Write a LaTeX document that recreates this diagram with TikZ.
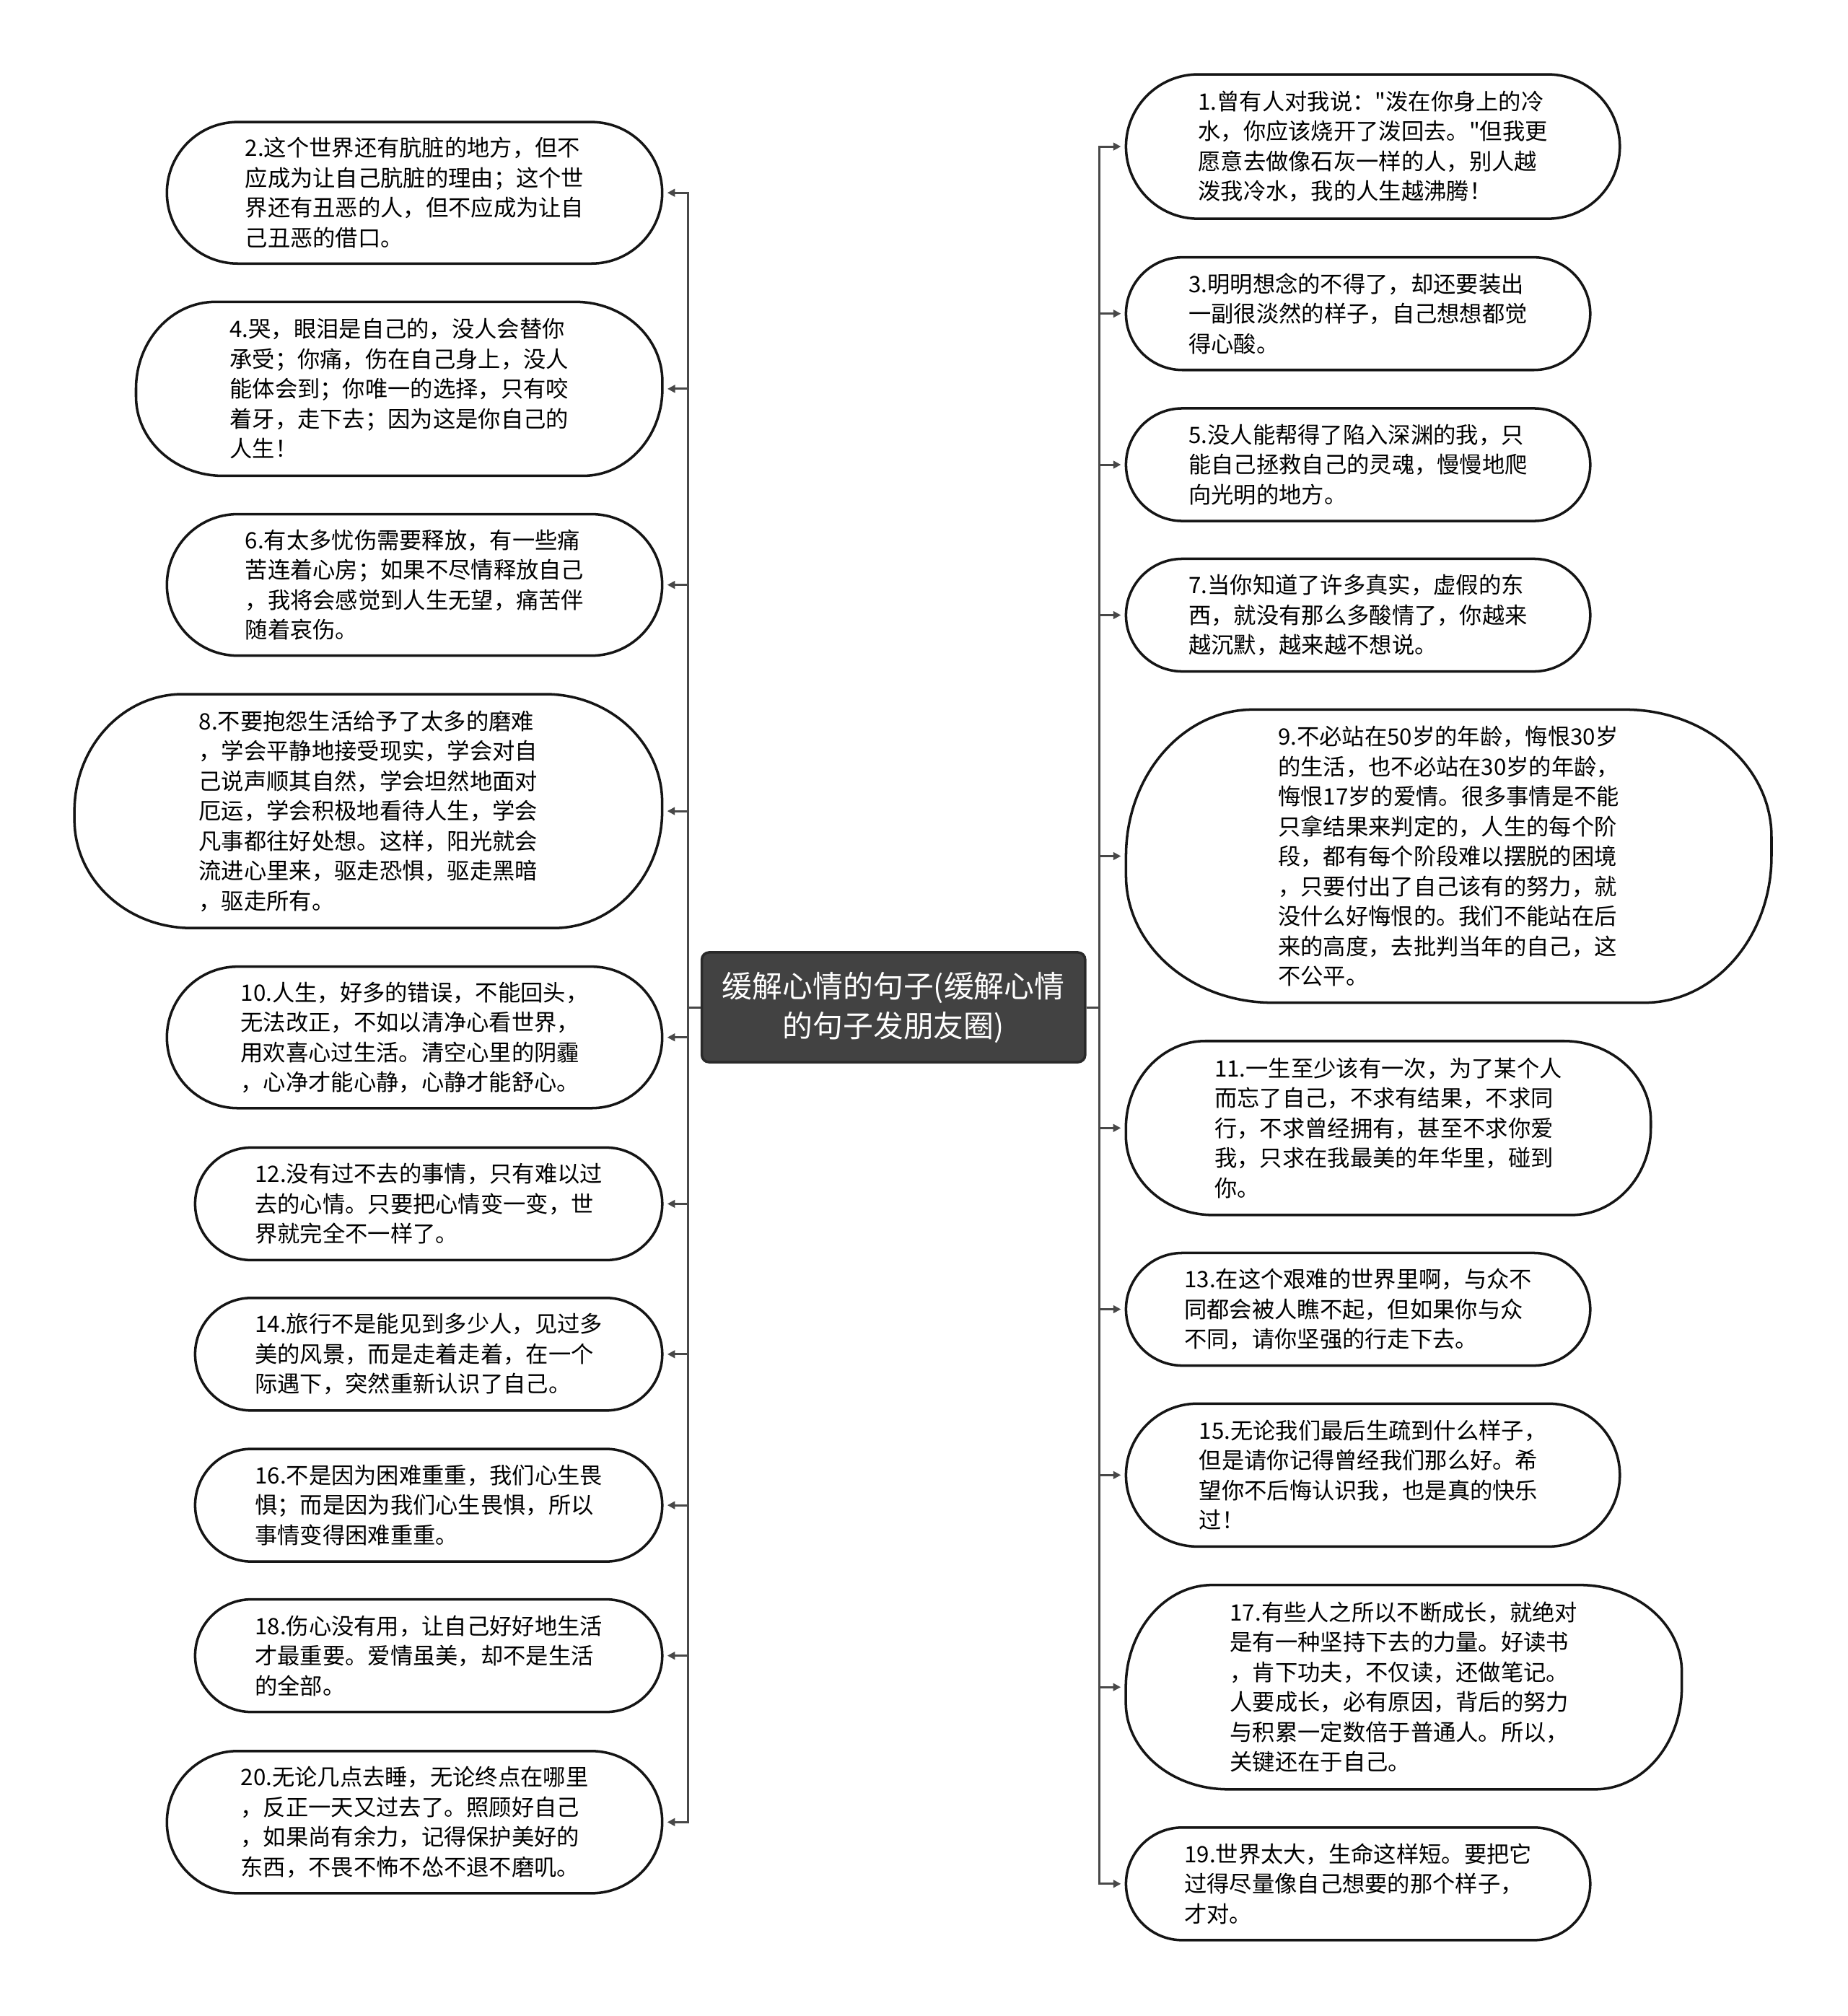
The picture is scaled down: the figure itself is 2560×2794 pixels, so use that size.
\documentclass[tikz,border=0pt]{standalone}
\usepackage{fontspec}
\usepackage{tikz}
\usetikzlibrary{arrows.meta}
\newfontfamily\cjk{Noto Sans CJK SC}
\definecolor{rootfill}{HTML}{424242}
\definecolor{rootstroke}{HTML}{2a2a2a}
\definecolor{edgecol}{HTML}{484848}
\definecolor{leafstroke}{HTML}{151515}
\tikzset{
  rootnode/.style={fill=rootfill, draw=rootstroke, line width=1pt,
                   rounded corners=0.1cm, text=white, align=center,
                   font=\cjk\fontsize{11.9pt}{15.6pt}\selectfont,
                   minimum width=5.31cm, minimum height=1.52cm, inner sep=0pt},
  ends/.code 2 args={\pgfsetcornersarced{\pgfpoint{#1}{#2}}},
  leaf/.style n args={3}{draw=leafstroke, fill=white, line width=1pt,
                   align=left, font=\cjk\fontsize{8.9pt}{11.8pt}\selectfont,
                   inner sep=0pt, minimum width=#1, minimum height=#2,
                   ends={#3}{0.5*#2}},
  branch/.style={draw=edgecol, line width=0.85pt,
                 -{Triangle[length=3pt,width=3pt]}, shorten >=1.5pt}
}

\begin{document}
\begin{tikzpicture}[x=0.01cm, y=-0.01cm]
  \useasboundingbox (0,0) rectangle (2560,2794);

  % ===== Root =====
  \node[rootnode] (root) at (1238.2,1396) {缓解心情的句子(缓解心情\\的句子发朋友圈)};
  \coordinate (ltrunk) at (953,1396);
  \coordinate (rtrunk) at (1523,1396);

  % ===== Left column: even items =====
  \node[leaf={6.86cm}{1.96cm}{0.98cm}] (L2) at (574.5,267.2)
    {2.这个世界还有肮脏的地方，但不\\应成为让自己肮脏的理由；这个世\\界还有丑恶的人，但不应成为让自\\己丑恶的借口。};
  \node[leaf={7.29cm}{2.41cm}{1.1cm}] (L4) at (553.2,538.9)
    {4.哭，眼泪是自己的，没人会替你\\承受；你痛，伤在自己身上，没人\\能体会到；你唯一的选择，只有咬\\着牙，走下去；因为这是你自己的\\人生！};
  \node[leaf={6.86cm}{1.96cm}{0.98cm}] (L6) at (574.5,810.6)
    {6.有太多忧伤需要释放，有一些痛\\苦连着心房；如果不尽情释放自己\\，我将会感觉到人生无望，痛苦伴\\随着哀伤。};
  \node[leaf={8.14cm}{3.24cm}{1.5cm}] (L8) at (510.4,1124.1)
    {8.不要抱怨生活给予了太多的磨难\\，学会平静地接受现实，学会对自\\己说声顺其自然，学会坦然地面对\\厄运，学会积极地看待人生，学会\\凡事都往好处想。这样，阳光就会\\流进心里来，驱走恐惧，驱走黑暗\\，驱走所有。};
  \node[leaf={6.86cm}{1.96cm}{0.98cm}] (L10) at (574.5,1437.7)
    {10.人生，好多的错误，不能回头，\\无法改正，不如以清净心看世界，\\用欢喜心过生活。清空心里的阴霾\\，心净才能心静，心静才能舒心。};
  \node[leaf={6.47cm}{1.56cm}{0.78cm}] (L12) at (594.1,1668.4)
    {12.没有过不去的事情，只有难以过\\去的心情。只要把心情变一变，世\\界就完全不一样了。};
  \node[leaf={6.47cm}{1.56cm}{0.78cm}] (L14) at (594.1,1876.8)
    {14.旅行不是能见到多少人，见过多\\美的风景，而是走着走着，在一个\\际遇下，突然重新认识了自己。};
  \node[leaf={6.47cm}{1.56cm}{0.78cm}] (L16) at (594.1,2086.1)
    {16.不是因为困难重重，我们心生畏\\惧；而是因为我们心生畏惧，所以\\事情变得困难重重。};
  \node[leaf={6.47cm}{1.56cm}{0.78cm}] (L18) at (594.1,2294.6)
    {18.伤心没有用，让自己好好地生活\\才最重要。爱情虽美，却不是生活\\的全部。};
  \node[leaf={6.86cm}{1.97cm}{0.98cm}] (L20) at (574.5,2525.3)
    {20.无论几点去睡，无论终点在哪里\\，反正一天又过去了。照顾好自己\\，如果尚有余力，记得保护美好的\\东西，不畏不怖不怂不退不磨叽。};

  % ===== Right column: odd items =====
  \node[leaf={6.84cm}{2.0cm}{1.0cm}] (R1) at (1902.6,203.1)
    {1.曾有人对我说："泼在你身上的冷\\水，你应该烧开了泼回去。"但我更\\愿意去做像石灰一样的人，别人越\\泼我冷水，我的人生越沸腾！};
  \node[leaf={6.43cm}{1.56cm}{0.78cm}] (R3) at (1882.1,434.7)
    {3.明明想念的不得了，却还要装出\\一副很淡然的样子，自己想想都觉\\得心酸。};
  \node[leaf={6.43cm}{1.56cm}{0.78cm}] (R5) at (1882.1,644)
    {5.没人能帮得了陷入深渊的我，只\\能自己拯救自己的灵魂，慢慢地爬\\向光明的地方。};
  \node[leaf={6.43cm}{1.56cm}{0.78cm}] (R7) at (1882.1,852.5)
    {7.当你知道了许多真实，虚假的东\\西，就没有那么多酸情了，你越来\\越沉默，越来越不想说。};
  \node[leaf={8.94cm}{4.06cm}{1.76cm}] (R9) at (2007.7,1186.5)
    {9.不必站在50岁的年龄，悔恨30岁\\的生活，也不必站在30岁的年龄，\\悔恨17岁的爱情。很多事情是不能\\只拿结果来判定的，人生的每个阶\\段，都有每个阶段难以摆脱的困境\\，只要付出了自己该有的努力，就\\没什么好悔恨的。我们不能站在后\\来的高度，去批判当年的自己，这\\不公平。};
  \node[leaf={7.27cm}{2.41cm}{1.1cm}] (R11) at (1924,1563.3)
    {11.一生至少该有一次，为了某个人\\而忘了自己，不求有结果，不求同\\行，不求曾经拥有，甚至不求你爱\\我，只求在我最美的年华里，碰到\\你。};
  \node[leaf={6.43cm}{1.56cm}{0.78cm}] (R13) at (1882.1,1814.5)
    {13.在这个艰难的世界里啊，与众不\\同都会被人瞧不起，但如果你与众\\不同，请你坚强的行走下去。};
  \node[leaf={6.84cm}{1.98cm}{0.99cm}] (R15) at (1902.6,2044.3)
    {15.无论我们最后生疏到什么样子，\\但是请你记得曾经我们那么好。希\\望你不后悔认识我，也是真的快乐\\过！};
  \node[leaf={7.70cm}{2.83cm}{1.2cm}] (R17) at (1945.4,2338.2)
    {17.有些人之所以不断成长，就绝对\\是有一种坚持下去的力量。好读书\\，肯下功夫，不仅读，还做笔记。\\人要成长，必有原因，背后的努力\\与积累一定数倍于普通人。所以，\\关键还在于自己。};
  \node[leaf={6.43cm}{1.56cm}{0.78cm}] (R19) at (1882.1,2610.8)
    {19.世界太大，生命这样短。要把它\\过得尽量像自己想要的那个样子，\\才对。};

  % ===== Branches =====
  \foreach \n in {L2,L4,L6,L8,L10,L12,L14,L16,L18,L20}
    \draw[branch] (root.west) -- (ltrunk) |- (\n.east);
  \foreach \n in {R1,R3,R5,R7,R9,R11,R13,R15,R17,R19}
    \draw[branch] (root.east) -- (rtrunk) |- (\n.west);

\end{tikzpicture}
\end{document}
